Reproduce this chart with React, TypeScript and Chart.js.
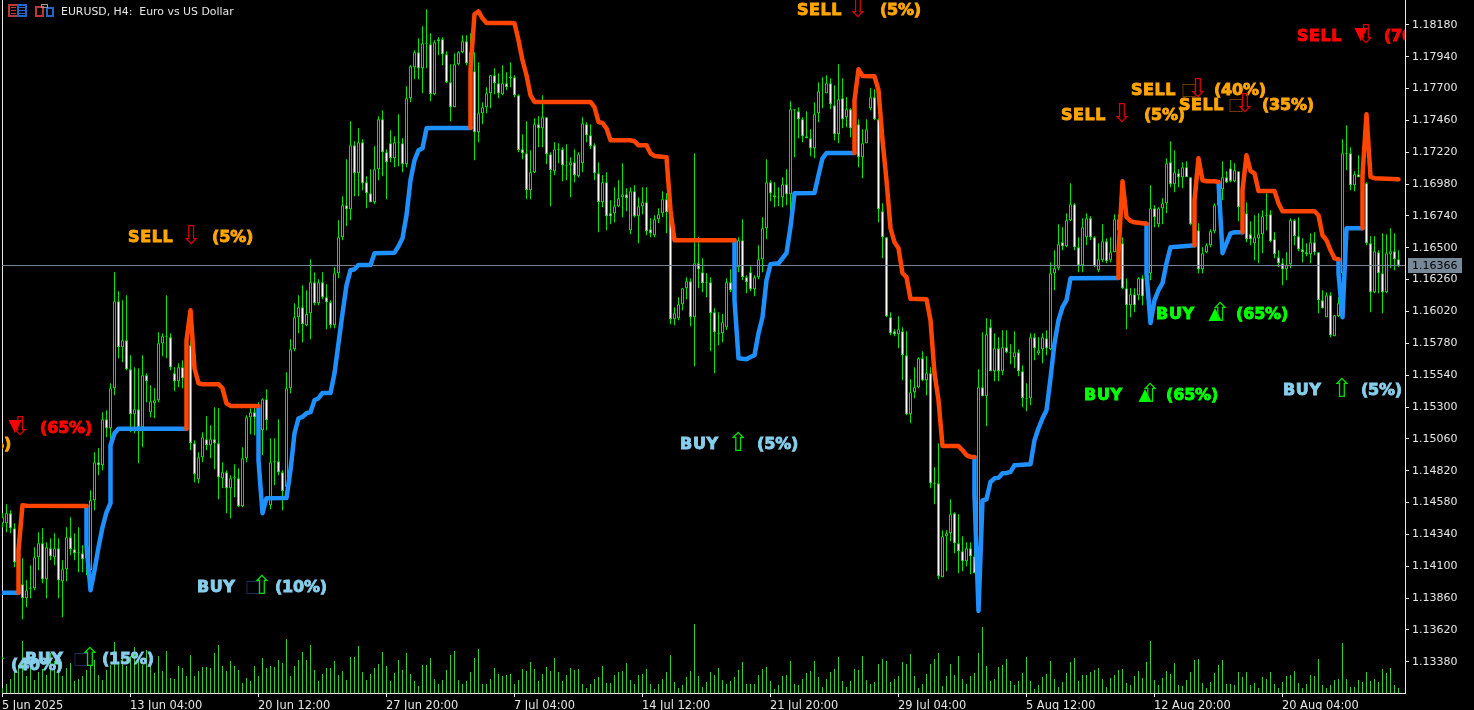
import React, { useEffect, useRef } from "react";
import { Chart, registerables } from "chart.js";

Chart.register(...registerables);

const SYMBOL_TITLE = "EURUSD, H4:  Euro vs US Dollar";
const LAST_PRICE = 1.16366;

const timeLabels = ["5 Jun 2025", "13 Jun 04:00", "20 Jun 12:00", "27 Jun 20:00", "7 Jul 04:00", "14 Jul 12:00", "21 Jul 20:00", "29 Jul 04:00", "5 Aug 12:00", "12 Aug 20:00", "20 Aug 04:00"];
const priceTicks = [1.1818, 1.1794, 1.177, 1.1746, 1.1722, 1.1698, 1.1674, 1.165, 1.1626, 1.1602, 1.1578, 1.1554, 1.153, 1.1506, 1.1482, 1.1458, 1.1434, 1.141, 1.1386, 1.1362, 1.1338];

// prices in points (1 point = 0.00001)
const opens = [
114424,114424,114500,114387,114070,113965,113859,113927,113934,114168,
114273,114002,114236,114168,114236,113987,114077,114319,114228,114206,
114198,114160,114070,114598,114884,114861,115208,115140,115441,116097,
115750,115803,115585,115245,115283,115148,115539,115261,115328,115351,
115780,115833,115826,115554,115494,115600,115517,115765,115027,114756,
114921,115057,115012,115057,115027,114763,114808,114688,114763,114763,
114552,114914,115223,115261,115261,115125,115359,114560,114884,114892,
114808,114695,115441,115735,115976,116052,115916,116007,116240,116082,
116240,116127,116089,115916,116308,116579,116820,116790,117272,117061,
117295,116994,116911,116843,117092,117468,117220,117288,117174,117295,
117288,117129,117627,117860,117973,117853,118034,118034,117657,118056,
118071,117958,117747,117559,117883,117973,118056,117890,117830,117370,
117514,117559,117664,117800,117740,117657,117740,117788,117785,117649,
117242,117212,116933,117069,117431,117400,117483,117205,117077,117246,
117242,117125,117122,117144,117039,117137,117431,117348,117272,117061,
116843,116994,116760,116760,116813,116881,116903,116632,116926,116737,
116813,116843,116640,116594,116715,116760,116866,116737,115961,115969,
116074,116195,116248,115976,116383,116315,116244,116240,116014,115860,
115856,115901,116240,116240,116353,116557,116278,116315,116187,116278,
116413,116647,116994,116896,116885,116881,116979,116903,117536,117529,
117468,117340,117325,117250,117514,117664,117664,117740,117574,117355,
117627,117483,117544,117400,117431,117182,117288,117551,117634,117468,
116775,116579,115976,115871,115848,115871,115690,115245,115411,115449,
115667,115502,115554,114730,114726,114017,114326,114349,114500,114273,
114213,114138,114236,114175,114047,115449,115381,115901,115569,115743,
115569,115750,115716,115675,115713,115569,115370,115366,115826,115705,
115735,115818,115735,116308,116346,116542,116512,116707,116828,116504,
116368,116579,116722,116579,116330,116406,116549,116406,116466,116715,
116534,116195,116067,116150,116142,116270,116263,116308,116798,116677,
116798,116835,117144,116979,117061,117031,117107,117031,116632,116632,
116338,116466,116519,116624,116820,116941,117031,117099,117001,117077,
116805,116760,116602,116534,116572,116602,116745,116753,116564,116428,
116383,116338,116376,116707,116587,116489,116466,116451,116542,116466,
116105,115976,116142,115833,115984,116308,117216,117212,116971,117054,
116971,116986,116534,116165,116466,116308,116165,116451,116474,116413,
];
const closes = [
114469,114500,114387,114130,114236,113859,113919,113934,114168,114273,
114002,114243,114175,114236,113995,114077,114319,114228,114198,114198,
114153,114296,114598,114884,114861,115208,115140,115441,116097,115750,
115803,115585,115245,115283,115148,115539,115494,115343,115351,115780,
115833,115825,115600,115494,115600,115517,115803,115027,114793,114921,
115072,115012,115057,115027,114771,114808,114688,114763,114771,114552,
114914,115223,115261,115223,115125,115359,115200,114884,114892,114808,
114665,115441,115735,115976,116052,115924,116000,116240,116082,116240,
116127,116089,115916,116308,116579,116820,116790,117272,117061,117295,
116986,116911,116843,117092,117468,117220,117144,117174,117295,117288,
117129,117627,117868,117973,117853,118041,118041,117657,118049,118071,
117958,117747,117559,117883,117973,118056,117890,117973,117370,117514,
117559,117664,117800,117740,117664,117740,117709,117780,117649,117235,
117212,116933,117069,117431,117400,117483,117205,117084,117242,117238,
117122,117118,117144,117046,117205,117438,117348,117265,117061,116843,
116994,116737,116737,116813,116873,116903,116873,116926,116737,116813,
116843,116624,116609,116715,116753,116866,116768,115961,116007,116074,
116195,116248,115976,116383,116338,116233,116236,116007,115863,115852,
115939,116240,116180,116353,116557,116278,116240,116187,116278,116413,
116647,116994,116911,116881,116878,116979,116903,117544,117544,117468,
117340,117325,117250,117506,117679,117668,117740,117581,117355,117619,
117468,117544,117400,117498,117182,117288,117393,117634,117468,116790,
116579,115984,115856,115848,115886,115690,115245,115411,115449,115667,
115502,115554,114726,114722,114025,114326,114349,114492,114273,114213,
114138,114236,114175,114047,115449,115381,115848,115569,115743,115569,
115750,115713,115709,115713,115569,115366,115362,115826,115743,115728,
115826,115743,116308,116346,116527,116512,116707,116828,116504,116368,
116655,116722,116579,116361,116413,116549,116398,116466,116715,116632,
116195,116067,116150,116067,116270,116135,116368,116798,116730,116798,
116835,117137,116979,117069,117031,117107,117031,116677,116707,116338,
116459,116519,116624,116820,116941,117031,116994,117001,117084,116805,
116745,116564,116564,116579,116602,116737,116738,116549,116451,116383,
116338,116368,116707,116587,116489,116466,116451,116542,116466,116105,
116044,116142,115841,115991,116082,117212,117208,116971,117054,117031,
117046,116534,116165,116474,116308,116165,116459,116474,116413,116366,
];
const highs = [
114500,114567,114522,114424,114372,114160,113995,114108,114243,114357,
114387,114281,114311,114349,114311,114145,114394,114469,114349,114394,
114258,114372,114673,114959,114989,115261,115276,115479,116315,116172,
116105,116142,115690,115600,115592,115690,115554,115464,115441,115863,
115856,116142,115856,115600,115630,115652,115841,115803,115050,114959,
115110,115230,115163,115298,115291,114884,114823,114786,114869,114839,
114997,115238,115291,115298,115336,115366,115434,115065,115065,115208,
114823,115562,115811,116082,116142,116217,116180,116413,116315,116263,
116315,116225,116105,116353,116707,116888,117167,117453,117303,117400,
117318,117039,117092,117265,117491,117536,117242,117385,117340,117506,
117325,117717,117875,117988,118079,118169,118297,118116,118064,118086,
118086,117981,117883,117966,117981,118101,118101,118116,117973,117898,
117596,117709,117800,117853,117815,117875,117822,117898,117800,117657,
117355,117453,117235,117476,117491,117649,117483,117220,117295,117288,
117257,117280,117182,117242,117220,117483,117446,117431,117288,117144,
117046,117069,116858,116956,117009,117137,116948,116956,116971,116881,
116956,116956,116722,116745,116798,116926,116911,116768,116052,116127,
116195,116278,116270,117212,116579,116421,116308,116278,116044,116014,
116000,116270,116338,116481,116579,116715,116293,116361,116293,116519,
116730,117167,117009,116994,116956,117031,117092,117604,117544,117559,
117483,117529,117393,117596,117747,117785,117800,117777,117725,117883,
117777,117634,117551,117604,117468,117393,117468,117702,117694,117476,
116835,116579,116014,115886,115984,115901,115871,115509,115600,115675,
115720,115683,115600,114846,115027,114372,114372,114605,114507,114492,
114326,114281,114281,114334,115585,115863,115969,115961,115856,115826,
115878,115878,115773,115871,115735,115615,115479,115856,115856,115826,
115856,115878,116391,116481,116677,116655,116760,116986,116835,116579,
116722,116760,116737,116587,116534,116677,116572,116579,116753,116753,
116579,116270,116195,116195,116278,116293,116436,116971,116820,116805,
116873,117174,117303,117235,117092,117144,117152,117031,116971,116685,
116504,116534,116640,116835,117009,117152,117077,117159,117137,117077,
116858,116843,116700,116745,116760,116783,116911,116783,116617,116481,
116421,116466,116722,116715,116730,116572,116534,116609,116617,116466,
116180,116165,116165,115991,116127,117318,117423,117257,117077,117197,
117174,116994,116587,116587,116481,116609,116602,116647,116609,116481,
];
const lows = [
114394,114357,114349,114092,113957,113701,113791,113859,113919,114070,
113972,113859,114145,114108,113859,113716,113987,114183,114145,114055,
114055,114032,114032,114522,114786,114823,115072,115050,115389,115667,
115637,115577,115110,115102,114876,114997,115336,115223,115215,115336,
115683,115667,115577,115419,115449,115441,115464,114974,114733,114726,
114884,114974,114914,114831,114605,114688,114500,114462,114620,114545,
114545,114884,115095,115087,114937,114937,115125,114530,114711,114786,
114522,114620,115404,115720,115856,115788,115909,115811,116067,116067,
116112,115886,115894,115894,116270,116557,116662,116707,116888,116888,
116933,116798,116843,116828,117009,117039,116866,117144,117107,117114,
117069,117107,117596,117770,117770,117664,117853,117604,117649,117951,
117875,117740,117453,117559,117875,117966,117875,117725,117159,117295,
117431,117514,117551,117657,117627,117649,117687,117709,117634,117220,
117167,116866,116866,117061,117257,117257,117129,116813,117046,117137,
117001,117009,116881,116994,117031,117069,117295,117242,117009,116617,
116805,116632,116677,116692,116805,116730,116775,116602,116730,116534,
116753,116594,116579,116579,116685,116730,116609,115924,115916,115954,
116029,116112,115909,115607,116195,116165,116127,115720,115554,115765,
115788,115878,116165,116180,116315,116255,116157,116172,116135,116263,
116315,116564,116851,116805,116813,116805,116820,116775,117182,117325,
117295,117325,117190,117174,117446,117551,117664,117544,117310,117288,
117400,117408,117333,117272,117107,117024,117288,117536,117461,116692,
116421,115976,115841,115833,115743,115502,115238,115178,115366,115441,
115494,115389,114688,114567,114002,114017,114062,114289,114198,114047,
114062,114100,114040,114047,114040,115381,115155,115569,115494,115494,
115539,115705,115622,115592,115532,115298,115268,115313,115652,115690,
115630,115690,115728,116180,116330,116481,116504,116700,116481,116315,
116315,116519,116557,116353,116315,116391,116383,116391,116466,116572,
116187,115886,115976,116014,116105,116067,116180,116255,116655,116655,
116677,116760,116956,116918,116956,116948,117031,116670,116632,116308,
116308,116459,116504,116609,116783,116858,116986,116994,116994,116700,
116662,116542,116519,116406,116383,116459,116632,116542,116421,116353,
116217,116255,116346,116519,116474,116391,116436,116383,116444,116007,
116044,115976,115826,115833,115976,116157,117084,116933,116926,117031,
116933,116519,116014,116157,116157,116007,116157,116346,116330,116353,
];
const volumes = [
5,9,14,22,28,52,17,28,13,21,24,18,40,32,40,17,25,30,12,14,17,23,27,33,18,13,23,28,51,30,40,27,37,46,33,28,43,27,20,37,
22,42,15,14,27,25,17,38,17,22,26,26,25,40,48,27,22,32,27,23,10,15,12,27,17,35,25,27,26,33,30,54,17,27,33,41,33,48,23,12,
19,25,25,32,18,22,13,
36,36,47,21,13,19,25,29,41,27,12,20,33,23,40,19,12,7,28,28,35,14,9,13,23,38,42,13,9,12,21,35,44,9,9,14,25,19,17,18,19,9,13,24,22,31,24,12,19,26,22,
35,21,12,18,25,23,24,9,5,9,14,16,27,10,10,18,21,22,30,13,9,18,19,24,9,4,9,14,21,38,11,5,8,16,22,69,17,6,11,21,18,25,13,9,12,16,23,31,9,9,9,18,24,26,12,
4,8,17,18,32,9,8,14,20,22,32,16,6,14,21,24,36,12,6,12,24,23,37,13,9,11,29,34,32,11,14,17,31,29,39,17,5,9,19,29,34,40,7,17,29,18,37,14,9,17,20,40,66,27,12,14,
26,28,34,12,8,12,20,36,12,4,8,16,19,32,14,6,11,20,31,35,12,18,18,21,23,25,14,6,15,18,23,24,10,8,17,22,15,31,52,13,8,15,22,19,30,8,7,13,21,33,34,10,5,11,20,28,33,
9,9,8,21,16,21,8,10,5,16,14,21,9,5,11,17,18,22,10,5,9,18,17,34,8,5,8,13,14,50,14,6,6,13,11,21,12,14,11,24,20,25,8,5,
];

// Indicator polylines: bar index and price in points; a null price breaks the line.
const blueBars = [0,4,21,21,21,22,23,24,25,26,27,27,28,29,46,64,64,64,65,66,71,72,73,74,75,76,77,78,79,80,82,83,84,85,86,87,88,89,92,93,98,99,100,101,102,103,104,105,106,107,117,183,183,183,184,186,187,188,189,190,191,192,194,195,196,197,198,203,204,205,206,213,243,243,243,244,245,246,247,248,249,250,251,252,253,257,258,259,260,261,262,263,264,265,266,267,279,286,286,286,287,288,289,290,291,292,296,298,304,304,305,306,307,308,310,334,334,334,335,336,340];
const bluePrices = [113901,113901,null,114552,114258,113919,114070,114243,114394,114507,114575,115012,115102,115136,115136,null,115298,114899,114500,114613,114615,114824,115102,115215,115225,115253,115261,115351,115366,115406,115406,115554,115780,116007,116217,116331,116338,116370,116370,116459,116463,116511,116572,116745,117009,117159,117235,117250,117400,117403,117403,null,116557,116105,115667,115660,115677,115690,115856,115976,116255,116376,116383,116421,116459,116655,116911,116913,117046,117174,117214,117214,null,114922,114635,113763,114597,114605,114735,114763,114766,114801,114803,114811,114861,114869,115050,115140,115215,115276,115517,115780,115954,116052,116105,116270,116272,null,116681,116308,115933,116105,116180,116233,116383,116504,116514,116519,null,116996,116459,116534,116609,116617,116617,null,116413,116308,115976,116647,116647];
const orangeBars = [4,4,5,6,21,46,46,46,47,48,49,50,54,55,56,57,64,117,117,117,118,119,120,121,127,128,129,130,131,132,133,147,148,149,150,151,152,157,158,159,161,162,163,166,167,168,183,213,213,213,214,215,218,219,220,221,222,223,224,225,226,227,231,232,233,234,235,239,240,241,242,243,279,279,279,280,281,282,283,285,286,298,298,298,299,300,301,303,304,310,310,310,311,312,313,314,318,319,320,328,329,330,331,332,333,334,340,340,340,341,342,343,349];
const orangePrices = [113901,114221,114560,114556,114555,null,115136,115803,116029,115592,115479,115472,115472,115441,115328,115308,115308,null,117403,117838,118260,118282,118229,118194,118194,118192,118064,117913,117800,117649,117599,117599,117559,117448,117440,117400,117310,117310,117303,117272,117272,117212,117192,117182,116783,116557,116557,null,117214,117611,117845,117795,117792,117687,117310,117009,116647,116541,116496,116308,116278,116116,116112,115954,115554,115351,115007,115007,114974,114937,114924,114924,null,116272,116459,117001,116732,116702,116692,116685,116681,null,116519,116858,117174,117009,117001,117001,116996,null,116617,116933,117197,117079,117061,116928,116928,116835,116775,116775,116745,116594,116557,116481,116421,116413,null,116647,117046,117506,117034,117024,117016];

// Signal captions: side, strength, anchor (bar index, price in points).
const signalSides = ["SELL", "SELL", "SELL", "SELL", "SELL", "SELL", "SELL", "SELL", "BUY", "BUY", "BUY", "BUY", "BUY", "BUY", "BUY"];
const signalPercents = ["(5%)", "(5%)", "(70%)", "(40%)", "(35%)", "(5%)", "(65%)", "(40%)", "(10%)", "(15%)", "(40%)", "(5%)", "(65%)", "(65%)", "(5%)"];
const signalBars = [198.6, 31.4, 323.6, 282.1, 294.1, 264.6, -12.1, -31.6, 48.6, 5.6, -17.4, 169.4, 270.4, 288.4, 320.1];
const signalPrices = [118299, 116589, 118103, 117696, 117583, 117508, 115149, 115029, 113951, 113409, 113364, 115029, 115398, 116009, 115436];

const ORANGE_TEXT = "#ffa500";
const RED_TEXT = "#ff0000";
const SKY_TEXT = "#87ceeb";
const LIME_TEXT = "#00ff00";
const signalStyles = [
  { color: ORANGE_TEXT, arrow: 61, pct: 83 },
  { color: ORANGE_TEXT, arrow: 63, pct: 84 },
  { color: RED_TEXT, arrow: 69, pct: 87, tri: true },
  { color: ORANGE_TEXT, arrow: 67, pct: 83, box: true },
  { color: ORANGE_TEXT, arrow: 66, pct: 83, box: true },
  { color: ORANGE_TEXT, arrow: 61, pct: 83 },
  { color: RED_TEXT, arrow: 66, pct: 86, tri: true },
  { color: ORANGE_TEXT, arrow: 61, pct: 83 },
  { color: SKY_TEXT, arrow: 65, pct: 78, box: true },
  { color: SKY_TEXT, arrow: 65, pct: 77, box: true },
  { color: SKY_TEXT, arrow: 65, pct: 78 },
  { color: SKY_TEXT, arrow: 58, pct: 77 },
  { color: LIME_TEXT, arrow: 66, pct: 82, tri: true },
  { color: LIME_TEXT, arrow: 64, pct: 80, tri: true },
  { color: SKY_TEXT, arrow: 59, pct: 78 },
];

const GREEN = "#00e600";
const VOL_GREEN = "#32cd32";
const AXIS = "#e8e8e8";
const P = (v: number | null) => (v === null ? null : v / 1e5);
const X_MIN = -0.125;
const X_MAX = 350.625;
const Y_MAX = 1.18367;
const Y_MIN = 1.13145;

const chartFurniture = {
  id: "chartFurniture",
  beforeDatasetsDraw(chart: any) {
    const { ctx, chartArea: a } = chart;
    ctx.save();
    ctx.fillStyle = AXIS;
    ctx.fillRect(2, 0, 1, a.bottom);
    ctx.restore();
  },
  afterDraw(chart: any) {
    const { ctx, chartArea: a, scales } = chart;
    ctx.save();
    // signal captions
    ctx.save();
    ctx.beginPath();
    ctx.rect(a.left, a.top, a.right - a.left, a.bottom - a.top);
    ctx.clip();
    ctx.textBaseline = "middle";
    signalSides.forEach((side, i) => {
      const st: any = signalStyles[i];
      const x = scales.x.getPixelForValue(signalBars[i]);
      const y = scales.y.getPixelForValue(signalPrices[i] / 1e5) + 1.5;
      const sell = side === "SELL";
      ctx.textAlign = "left";
      ctx.font = "bold 16px 'DejaVu Sans'";
      ctx.fillStyle = st.color;
      ctx.strokeStyle = st.color;
      ctx.lineWidth = 0.9;
      (ctx as any).letterSpacing = "0.6px";
      ctx.fillText(side, x, y);
      ctx.strokeText(side, x, y);
      (ctx as any).letterSpacing = "-0.2px";
      ctx.fillText(signalPercents[i], x + st.pct, y);
      ctx.strokeText(signalPercents[i], x + st.pct, y);
      (ctx as any).letterSpacing = "0px";
      ctx.textAlign = "center";
      const ax = x + st.arrow;
      if (st.box) {
        ctx.font = "17px 'DejaVu Sans'";
        ctx.fillStyle = sell ? "#6b3a00" : "#1c2c5c";
        ctx.fillText("\u25A1", ax - 9, y);
      }
      if (st.tri) {
        ctx.font = "17px 'DejaVu Sans'";
        ctx.fillStyle = sell ? "#ff0000" : "#00ff00";
        ctx.fillText(sell ? "\u25BC" : "\u25B2", ax - 5, y + (sell ? -2 : 0));
      }
      ctx.font = "26px 'DejaVu Sans'";
      ctx.fillStyle = sell ? "#d80000" : "#00e000";
      ctx.fillText(sell ? "\u21E9" : "\u21E7", ax, y);
    });
    ctx.restore();

    // last price tag
    const ty = scales.y.getPixelForValue(LAST_PRICE);
    ctx.fillStyle = "#778899";
    ctx.fillRect(1408, Math.round(ty) - 8, 54, 15);
    ctx.fillStyle = "#000000";
    ctx.font = "11px 'DejaVu Sans'";
    ctx.textAlign = "left";
    ctx.textBaseline = "middle";
    ctx.fillText(LAST_PRICE.toFixed(5), 1412, Math.round(ty));

    // title and its two icons
    ctx.fillStyle = "#e6e6e6";
    ctx.font = "10.9px 'DejaVu Sans'";
    ctx.textBaseline = "middle";
    ctx.fillText(SYMBOL_TITLE, 61, 12);
    ctx.lineWidth = 2;
    ctx.strokeStyle = "#b93a3a";
    ctx.strokeRect(9, 5, 9, 11);
    ctx.strokeRect(36, 7, 7, 9);
    ctx.strokeStyle = "#2266cc";
    ctx.strokeRect(18, 5, 8, 11);
    ctx.strokeRect(47, 8, 6, 8);
    ctx.fillStyle = "#c83232";
    ctx.fillRect(11, 7, 5, 1);
    ctx.fillRect(11, 10, 5, 1);
    ctx.fillRect(11, 13, 5, 1);
    ctx.fillStyle = "#2266cc";
    ctx.fillRect(19, 7, 6, 1);
    ctx.fillRect(19, 10, 6, 1);
    ctx.fillRect(19, 13, 6, 1);
    ctx.lineWidth = 1;
    ctx.strokeStyle = "#999999";
    ctx.strokeRect(41.5, 4.5, 6, 3);
    ctx.restore();
  },
};

export default function App() {
  const ref = useRef<HTMLCanvasElement | null>(null);
  useEffect(() => {
    if (!ref.current) return;
    const idx = opens.map((_, i) => i);
    const thin = { type: "bar", grouped: false, barPercentage: 1, categoryPercentage: 1, inflateAmount: 0, borderWidth: 0 };
    const chart = new Chart(ref.current, {
      type: "bar",
      data: {
        datasets: [
          { ...thin, label: "Volume", yAxisID: "v", order: 6, maxBarThickness: 1, backgroundColor: VOL_GREEN, data: volumes.map((v, i) => ({ x: i, y: v })) },
          { ...thin, label: "Range", order: 5, maxBarThickness: 1, backgroundColor: GREEN, data: idx.map((i) => ({ x: i, y: [lows[i] / 1e5, highs[i] / 1e5] })) },
          {
            type: "bar", label: "Body", grouped: false, order: 4, barPercentage: 1, categoryPercentage: 1, maxBarThickness: 3, inflateAmount: 0,
            borderWidth: 1, borderSkipped: false, borderColor: GREEN,
            backgroundColor: idx.map((i) => (closes[i] >= opens[i] ? "#000000" : "#ffffff")),
            data: idx.map((i) => ({ x: i, y: [opens[i] / 1e5, closes[i] / 1e5] })),
          },
          { type: "line", label: "Last", order: 3, borderColor: "#778899", borderWidth: 1, pointRadius: 0, data: [{ x: X_MIN, y: LAST_PRICE }, { x: X_MAX, y: LAST_PRICE }] },
          { type: "line", label: "Up trend", order: 2, borderColor: "#1e90ff", borderWidth: 4.5, pointRadius: 0, tension: 0, spanGaps: false, borderJoinStyle: "round", borderCapStyle: "round", data: blueBars.map((b, i) => ({ x: b, y: P(bluePrices[i]) })) },
          { type: "line", label: "Down trend", order: 1, borderColor: "#ff4500", borderWidth: 4.5, pointRadius: 0, tension: 0, spanGaps: false, borderJoinStyle: "round", borderCapStyle: "round", data: orangeBars.map((b, i) => ({ x: b, y: P(orangePrices[i]) })) },
        ] as any,
      },
      options: {
        responsive: false,
        animation: false,
        devicePixelRatio: 1,
        events: [],
        layout: { padding: { left: 2, top: 0, right: 0, bottom: 0 } },
        plugins: { legend: { display: false }, tooltip: { enabled: false } },
        scales: {
          x: {
            type: "linear", offset: false, min: X_MIN, max: X_MAX,
            afterBuildTicks: (s: any) => { s.ticks = timeLabels.map((_, i) => ({ value: X_MIN + 32 * i })); },
            afterFit: (s: any) => { s.height = 17; s.paddingLeft = 0; s.paddingRight = 0; s.paddingTop = 0; s.paddingBottom = 0; },
            ticks: {
              autoSkip: false, maxRotation: 0, minRotation: 0, align: "start", padding: 2, color: "#e6e6e6",
              font: { family: "'DejaVu Sans'", size: 11.4 },
              callback: (_: any, i: number) => timeLabels[i],
            },
            grid: { drawOnChartArea: false, offset: false, color: AXIS, tickLength: 4 },
            border: { color: AXIS },
          },
          y: {
            type: "linear", position: "right", min: Y_MIN, max: Y_MAX,
            afterBuildTicks: (s: any) => { s.ticks = priceTicks.map((value) => ({ value })); },
            afterFit: (s: any) => { s.width = 69; s.paddingLeft = 0; s.paddingRight = 0; s.paddingTop = 0; s.paddingBottom = 0; },
            ticks: {
              autoSkip: false, padding: 3, color: "#e6e6e6",
              font: { family: "'DejaVu Sans'", size: 11 },
              callback: (v: any) => Number(v).toFixed(5),
            },
            grid: { drawOnChartArea: false, color: AXIS, tickLength: 4 },
            border: { color: AXIS },
          },
          v: { type: "linear", display: false, min: 0, max: 693 },
        },
      } as any,
      plugins: [chartFurniture],
    });
    return () => chart.destroy();
  }, []);
  return (
    <div style={{ position: "fixed", left: 0, top: 0, width: 1474, height: 710, background: "#000", overflow: "hidden" }}>
      <canvas ref={ref} width={1474} height={710} style={{ display: "block" }} />
    </div>
  );
}
